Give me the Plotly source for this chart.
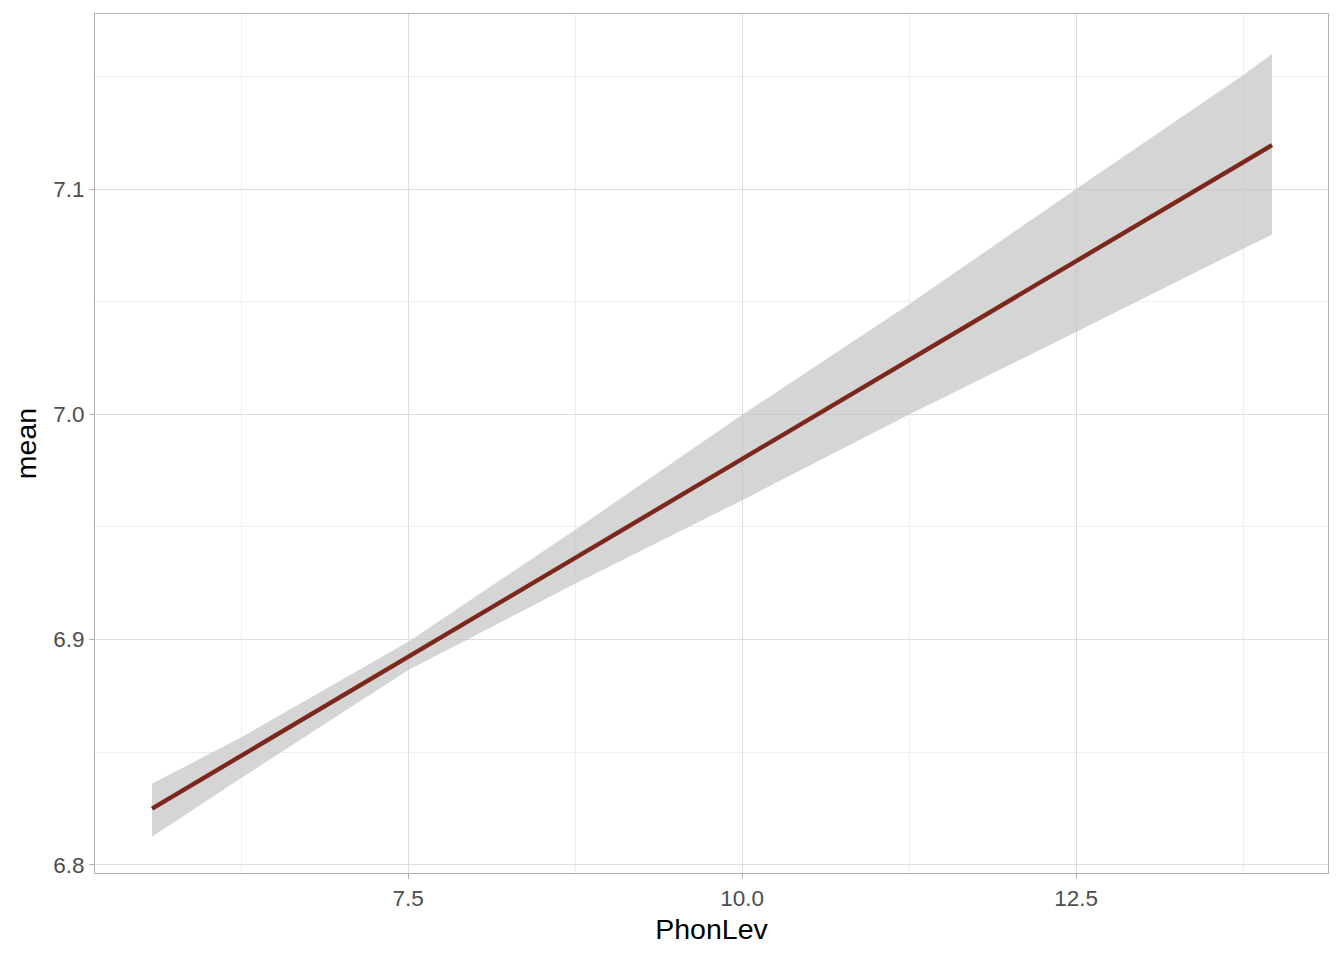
import plotly.graph_objects as go

# Data
phonlev = [5.584, 6.263, 7.502, 8.757, 10.006, 11.254, 12.5, 13.75, 13.967]
fit_mean = [6.825, 6.849, 6.892, 6.937, 6.980, 7.024, 7.068, 7.112, 7.1195]
ci_upper = [6.836, 6.857, 6.899, 6.949, 7.000, 7.049, 7.100, 7.1505, 7.160]
ci_lower = [6.8125, 6.839, 6.8865, 6.925, 6.962, 7.000, 7.0365, 7.0735, 7.0797]

x_ticks = [7.5, 10.0, 12.5]
x_tick_labels = ["7.5", "10.0", "12.5"]
y_ticks = [6.8, 6.9, 7.0, 7.1]
y_tick_labels = ["6.8", "6.9", "7.0", "7.1"]

FONT = "Liberation Sans, Arial, Helvetica, sans-serif"

fig = go.Figure()
fig.add_trace(go.Scatter(
    x=phonlev + phonlev[::-1],
    y=ci_upper + ci_lower[::-1],
    fill="toself", fillcolor="rgba(190,190,190,0.65)",
    line=dict(width=0), mode="lines", hoverinfo="skip", showlegend=False,
))
fig.add_trace(go.Scatter(
    x=[phonlev[0], phonlev[-1]], y=[fit_mean[0], fit_mean[-1]],
    mode="lines", line=dict(color="#7B271C", width=4.4), showlegend=False,
))

axis_common = dict(
    showline=True, linecolor="#B3B3B3", linewidth=1, mirror=True,
    ticks="outside", ticklen=5, tickcolor="#B3B3B3", tickwidth=1,
    showgrid=True, gridcolor="#DEDEDE", gridwidth=1, zeroline=False,
    tickfont=dict(family=FONT, size=22.5, color="#4D4D4D"),
    minor=dict(showgrid=True, gridcolor="#EFEFEF", gridwidth=1, ticks=""),
)

fig.update_layout(
    width=1336, height=952,
    margin=dict(l=87, r=16, t=6, b=87),
    plot_bgcolor="white", paper_bgcolor="white",
    xaxis=dict(
        range=[5.157, 14.386], tickvals=x_ticks, ticktext=x_tick_labels,
        title=dict(text="PhonLev", font=dict(family=FONT, size=28.5, color="black"), standoff=9),
        **axis_common,
    ),
    yaxis=dict(
        range=[6.7964, 7.1777], tickvals=y_ticks, ticktext=y_tick_labels,
        title=dict(text="mean", font=dict(family=FONT, size=28.5, color="black"), standoff=8),
        **axis_common,
    ),
)
fig.update_xaxes(minor=dict(tickvals=[6.25, 8.75, 11.25, 13.75]))
fig.update_yaxes(minor=dict(tickvals=[6.85, 6.95, 7.05, 7.15]))

fig.write_html("out.html")
